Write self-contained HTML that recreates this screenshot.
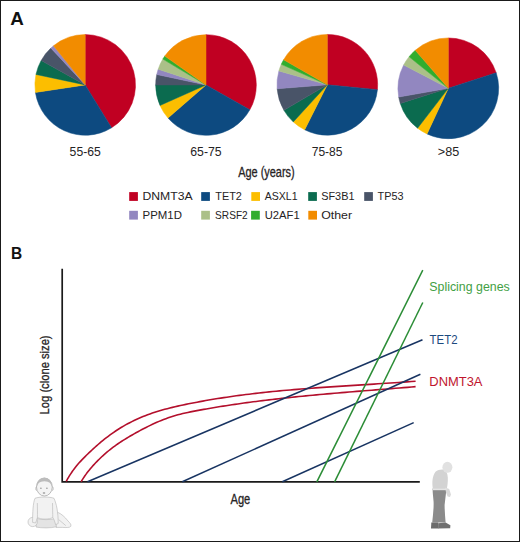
<!DOCTYPE html>
<html><head><meta charset="utf-8"><style>
html,body{margin:0;padding:0;background:#fff;}
svg{display:block;}
text{font-family:"Liberation Sans",sans-serif;}
</style></head><body>
<svg width="520" height="542" viewBox="0 0 520 542">
<rect x="0" y="0" width="520" height="542" fill="#fff"/>
<rect x="0.5" y="0.5" width="519" height="541" fill="none" stroke="#1a1a1a" stroke-width="1"/>
<text x="10.2" y="24.8" font-size="17.6" fill="#111" text-anchor="start" font-weight="bold" textLength="13.6" lengthAdjust="spacingAndGlyphs" >A</text>
<path d="M85.20,84.90L85.20,34.55A50.35,50.35 0 0 1 111.58,127.78Z" fill="#c00022" stroke="#c00022" stroke-width="0.5" stroke-linejoin="round"/>
<path d="M85.20,84.90L111.58,127.78A50.35,50.35 0 0 1 35.42,92.43Z" fill="#0d4a80" stroke="#0d4a80" stroke-width="0.5" stroke-linejoin="round"/>
<path d="M85.20,84.90L35.42,92.43A50.35,50.35 0 0 1 35.95,74.43Z" fill="#fcbe00" stroke="#fcbe00" stroke-width="0.5" stroke-linejoin="round"/>
<path d="M85.20,84.90L35.95,74.43A50.35,50.35 0 0 1 41.16,60.49Z" fill="#0b6b4f" stroke="#0b6b4f" stroke-width="0.5" stroke-linejoin="round"/>
<path d="M85.20,84.90L41.16,60.49A50.35,50.35 0 0 1 50.86,48.08Z" fill="#495468" stroke="#495468" stroke-width="0.5" stroke-linejoin="round"/>
<path d="M85.20,84.90L50.86,48.08A50.35,50.35 0 0 1 53.51,45.77Z" fill="#9287c0" stroke="#9287c0" stroke-width="0.5" stroke-linejoin="round"/>
<path d="M85.20,84.90L53.51,45.77A50.35,50.35 0 0 1 85.20,34.55Z" fill="#f28c00" stroke="#f28c00" stroke-width="0.5" stroke-linejoin="round"/>
<path d="M206.00,85.00L206.00,34.65A50.35,50.35 0 0 1 249.82,109.79Z" fill="#c00022" stroke="#c00022" stroke-width="0.5" stroke-linejoin="round"/>
<path d="M206.00,85.00L249.82,109.79A50.35,50.35 0 0 1 168.00,118.03Z" fill="#0d4a80" stroke="#0d4a80" stroke-width="0.5" stroke-linejoin="round"/>
<path d="M206.00,85.00L168.00,118.03A50.35,50.35 0 0 1 160.00,105.48Z" fill="#fcbe00" stroke="#fcbe00" stroke-width="0.5" stroke-linejoin="round"/>
<path d="M206.00,85.00L160.00,105.48A50.35,50.35 0 0 1 155.65,85.00Z" fill="#0b6b4f" stroke="#0b6b4f" stroke-width="0.5" stroke-linejoin="round"/>
<path d="M206.00,85.00L155.65,85.00A50.35,50.35 0 0 1 156.75,74.53Z" fill="#495468" stroke="#495468" stroke-width="0.5" stroke-linejoin="round"/>
<path d="M206.00,85.00L156.75,74.53A50.35,50.35 0 0 1 158.20,69.19Z" fill="#9287c0" stroke="#9287c0" stroke-width="0.5" stroke-linejoin="round"/>
<path d="M206.00,85.00L158.20,69.19A50.35,50.35 0 0 1 162.84,59.07Z" fill="#abc088" stroke="#abc088" stroke-width="0.5" stroke-linejoin="round"/>
<path d="M206.00,85.00L162.84,59.07A50.35,50.35 0 0 1 164.76,56.12Z" fill="#31ad2e" stroke="#31ad2e" stroke-width="0.5" stroke-linejoin="round"/>
<path d="M206.00,85.00L164.76,56.12A50.35,50.35 0 0 1 206.00,34.65Z" fill="#f28c00" stroke="#f28c00" stroke-width="0.5" stroke-linejoin="round"/>
<path d="M327.30,84.80L327.30,34.45A50.35,50.35 0 0 1 377.42,89.63Z" fill="#c00022" stroke="#c00022" stroke-width="0.5" stroke-linejoin="round"/>
<path d="M327.30,84.80L377.42,89.63A50.35,50.35 0 0 1 304.68,129.78Z" fill="#0d4a80" stroke="#0d4a80" stroke-width="0.5" stroke-linejoin="round"/>
<path d="M327.30,84.80L304.68,129.78A50.35,50.35 0 0 1 293.28,121.92Z" fill="#fcbe00" stroke="#fcbe00" stroke-width="0.5" stroke-linejoin="round"/>
<path d="M327.30,84.80L293.28,121.92A50.35,50.35 0 0 1 283.92,110.35Z" fill="#0b6b4f" stroke="#0b6b4f" stroke-width="0.5" stroke-linejoin="round"/>
<path d="M327.30,84.80L283.92,110.35A50.35,50.35 0 0 1 277.11,88.75Z" fill="#495468" stroke="#495468" stroke-width="0.5" stroke-linejoin="round"/>
<path d="M327.30,84.80L277.11,88.75A50.35,50.35 0 0 1 278.90,70.92Z" fill="#9287c0" stroke="#9287c0" stroke-width="0.5" stroke-linejoin="round"/>
<path d="M327.30,84.80L278.90,70.92A50.35,50.35 0 0 1 281.30,64.32Z" fill="#abc088" stroke="#abc088" stroke-width="0.5" stroke-linejoin="round"/>
<path d="M327.30,84.80L281.30,64.32A50.35,50.35 0 0 1 283.61,59.78Z" fill="#31ad2e" stroke="#31ad2e" stroke-width="0.5" stroke-linejoin="round"/>
<path d="M327.30,84.80L283.61,59.78A50.35,50.35 0 0 1 327.30,34.45Z" fill="#f28c00" stroke="#f28c00" stroke-width="0.5" stroke-linejoin="round"/>
<path d="M448.30,88.30L448.30,37.95A50.35,50.35 0 0 1 496.19,72.74Z" fill="#c00022" stroke="#c00022" stroke-width="0.5" stroke-linejoin="round"/>
<path d="M448.30,88.30L496.19,72.74A50.35,50.35 0 0 1 427.02,133.93Z" fill="#0d4a80" stroke="#0d4a80" stroke-width="0.5" stroke-linejoin="round"/>
<path d="M448.30,88.30L427.02,133.93A50.35,50.35 0 0 1 417.58,128.19Z" fill="#fcbe00" stroke="#fcbe00" stroke-width="0.5" stroke-linejoin="round"/>
<path d="M448.30,88.30L417.58,128.19A50.35,50.35 0 0 1 400.28,103.44Z" fill="#0b6b4f" stroke="#0b6b4f" stroke-width="0.5" stroke-linejoin="round"/>
<path d="M448.30,88.30L400.28,103.44A50.35,50.35 0 0 1 398.71,97.04Z" fill="#495468" stroke="#495468" stroke-width="0.5" stroke-linejoin="round"/>
<path d="M448.30,88.30L398.71,97.04A50.35,50.35 0 0 1 403.68,64.97Z" fill="#9287c0" stroke="#9287c0" stroke-width="0.5" stroke-linejoin="round"/>
<path d="M448.30,88.30L403.68,64.97A50.35,50.35 0 0 1 409.06,56.75Z" fill="#abc088" stroke="#abc088" stroke-width="0.5" stroke-linejoin="round"/>
<path d="M448.30,88.30L409.06,56.75A50.35,50.35 0 0 1 415.27,50.30Z" fill="#31ad2e" stroke="#31ad2e" stroke-width="0.5" stroke-linejoin="round"/>
<path d="M448.30,88.30L415.27,50.30A50.35,50.35 0 0 1 448.30,37.95Z" fill="#f28c00" stroke="#f28c00" stroke-width="0.5" stroke-linejoin="round"/>
<text x="85.2" y="155.6" font-size="12.8" fill="#262324" text-anchor="middle" font-weight="normal" textLength="31.2" lengthAdjust="spacingAndGlyphs" >55-65</text>
<text x="206" y="155.6" font-size="12.8" fill="#262324" text-anchor="middle" font-weight="normal" textLength="31.4" lengthAdjust="spacingAndGlyphs" >65-75</text>
<text x="327.1" y="155.6" font-size="12.8" fill="#262324" text-anchor="middle" font-weight="normal" textLength="30.8" lengthAdjust="spacingAndGlyphs" >75-85</text>
<text x="448.5" y="155.6" font-size="12.8" fill="#262324" text-anchor="middle" font-weight="normal" textLength="21.4" lengthAdjust="spacingAndGlyphs" >&gt;85</text>
<text x="238.2" y="177.4" font-size="13.8" fill="#262324" text-anchor="start" font-weight="normal" textLength="56.5" lengthAdjust="spacingAndGlyphs" stroke="#262324" stroke-width="0.3">Age (years)</text>
<rect x="129.2" y="192.1" width="8.7" height="8.8" fill="#c00022"/>
<text x="142.5" y="200.04999999999998" font-size="11.1" fill="#262324" text-anchor="start" font-weight="normal" textLength="50.1" lengthAdjust="spacingAndGlyphs" >DNMT3A</text>
<rect x="201.2" y="192.1" width="8.7" height="8.8" fill="#0d4a80"/>
<text x="215.3" y="200.04999999999998" font-size="11.1" fill="#262324" text-anchor="start" font-weight="normal" textLength="26.599999999999998" lengthAdjust="spacingAndGlyphs" >TET2</text>
<rect x="251.3" y="192.1" width="8.7" height="8.8" fill="#fcbe00"/>
<text x="264.8" y="200.04999999999998" font-size="11.1" fill="#262324" text-anchor="start" font-weight="normal" textLength="32.8" lengthAdjust="spacingAndGlyphs" >ASXL1</text>
<rect x="308.2" y="192.1" width="8.7" height="8.8" fill="#0b6b4f"/>
<text x="321.2" y="200.04999999999998" font-size="11.1" fill="#262324" text-anchor="start" font-weight="normal" textLength="33.3" lengthAdjust="spacingAndGlyphs" >SF3B1</text>
<rect x="364.2" y="192.1" width="8.7" height="8.8" fill="#495468"/>
<text x="377.6" y="200.04999999999998" font-size="11.1" fill="#262324" text-anchor="start" font-weight="normal" textLength="25.9" lengthAdjust="spacingAndGlyphs" >TP53</text>
<rect x="129.2" y="210.8" width="8.7" height="8.8" fill="#9287c0"/>
<text x="142.5" y="218.75" font-size="11.1" fill="#262324" text-anchor="start" font-weight="normal" textLength="39.4" lengthAdjust="spacingAndGlyphs" >PPM1D</text>
<rect x="201.2" y="210.8" width="8.7" height="8.8" fill="#abc088"/>
<text x="215.10000000000002" y="218.75" font-size="11.1" fill="#262324" text-anchor="start" font-weight="normal" textLength="32.6" lengthAdjust="spacingAndGlyphs" >SRSF2</text>
<rect x="251.1" y="210.8" width="8.7" height="8.8" fill="#31ad2e"/>
<text x="264.7" y="218.75" font-size="11.1" fill="#262324" text-anchor="start" font-weight="normal" textLength="35.0" lengthAdjust="spacingAndGlyphs" >U2AF1</text>
<rect x="308.3" y="210.8" width="8.7" height="8.8" fill="#f28c00"/>
<text x="321.2" y="218.75" font-size="11.1" fill="#262324" text-anchor="start" font-weight="normal" textLength="30.9" lengthAdjust="spacingAndGlyphs" >Other</text>
<text x="11.0" y="259.4" font-size="16.2" fill="#111" text-anchor="start" font-weight="bold" textLength="11.2" lengthAdjust="spacingAndGlyphs" >B</text>
<g fill="none" stroke-linecap="butt">
<path d="M62.2,268.8V481.8H419.8" stroke="#1a1a1a" stroke-width="1.7"/>
<path d="M66.20,481.46 L66.28,481.31 L66.46,480.98 L66.71,480.51 L67.04,479.92 L67.43,479.23 L67.87,478.46 L68.37,477.60 L68.93,476.67 L69.53,475.68 L70.18,474.65 L70.88,473.57 L71.63,472.45 L72.42,471.30 L73.26,470.13 L74.14,468.94 L75.06,467.73 L76.02,466.52 L77.02,465.29 L78.06,464.06 L79.14,462.83 L80.26,461.60 L81.42,460.35 L82.61,459.11 L83.84,457.85 L85.11,456.57 L86.41,455.28 L87.75,453.97 L89.13,452.65 L90.54,451.31 L91.98,449.96 L93.46,448.60 L94.97,447.23 L96.52,445.86 L98.09,444.48 L99.71,443.10 L101.35,441.72 L103.02,440.35 L104.73,438.98 L106.47,437.62 L108.24,436.27 L110.05,434.93 L111.88,433.61 L113.74,432.30 L115.64,431.01 L117.56,429.75 L119.52,428.51 L121.50,427.29 L123.52,426.10 L125.57,424.93 L127.64,423.79 L129.74,422.67 L131.88,421.59 L134.04,420.53 L136.23,419.50 L138.45,418.50 L140.69,417.53 L142.97,416.59 L145.27,415.67 L147.60,414.79 L149.96,413.93 L152.35,413.10 L154.77,412.30 L157.21,411.52 L159.68,410.77 L162.17,410.05 L164.70,409.35 L167.25,408.67 L169.82,408.01 L172.43,407.37 L175.06,406.74 L177.72,406.14 L180.40,405.54 L183.11,404.96 L185.84,404.39 L188.61,403.82 L191.39,403.26 L194.21,402.71 L197.05,402.17 L199.91,401.63 L202.80,401.10 L205.72,400.58 L208.66,400.07 L211.62,399.57 L214.61,399.07 L217.63,398.58 L220.67,398.10 L223.74,397.63 L226.83,397.17 L229.94,396.71 L233.08,396.27 L236.25,395.83 L239.44,395.40 L242.65,394.98 L245.89,394.57 L249.15,394.17 L252.43,393.77 L255.74,393.38 L259.08,393.01 L262.44,392.63 L265.82,392.27 L269.22,391.92 L272.65,391.57 L276.10,391.23 L279.58,390.90 L283.08,390.57 L286.60,390.25 L290.15,389.94 L293.72,389.63 L297.31,389.33 L300.93,389.04 L304.57,388.75 L308.23,388.47 L311.91,388.19 L315.62,387.92 L319.35,387.65 L323.11,387.38 L326.88,387.12 L330.68,386.86 L334.50,386.60 L338.35,386.35 L342.22,386.10 L346.10,385.85 L350.02,385.60 L353.95,385.35 L357.91,385.10 L361.88,384.84 L365.88,384.59 L369.91,384.34 L373.95,384.08 L378.02,383.82 L382.11,383.55 L386.22,383.28 L390.35,383.01 L394.50,382.73 L398.68,382.44 L402.88,382.14 L407.10,381.84 L411.34,381.52 L415.60,381.20" stroke="#b30f2c" stroke-width="1.6"/>
<path d="M81.10,481.74 L81.18,481.61 L81.35,481.32 L81.59,480.92 L81.90,480.41 L82.27,479.81 L82.70,479.14 L83.18,478.39 L83.71,477.58 L84.29,476.72 L84.91,475.81 L85.58,474.86 L86.30,473.87 L87.06,472.85 L87.86,471.81 L88.70,470.74 L89.58,469.66 L90.50,468.55 L91.46,467.43 L92.45,466.30 L93.49,465.15 L94.56,463.99 L95.67,462.81 L96.81,461.62 L97.99,460.42 L99.20,459.21 L100.45,458.00 L101.73,456.78 L103.05,455.57 L104.40,454.35 L105.78,453.14 L107.20,451.94 L108.64,450.74 L110.12,449.55 L111.63,448.37 L113.18,447.20 L114.75,446.04 L116.35,444.89 L117.99,443.76 L119.66,442.63 L121.35,441.51 L123.08,440.41 L124.83,439.31 L126.62,438.22 L128.43,437.13 L130.27,436.05 L132.15,434.97 L134.05,433.89 L135.98,432.81 L137.93,431.73 L139.92,430.65 L141.93,429.57 L143.97,428.50 L146.04,427.44 L148.14,426.39 L150.27,425.35 L152.42,424.33 L154.60,423.32 L156.80,422.34 L159.03,421.37 L161.29,420.43 L163.58,419.52 L165.89,418.64 L168.23,417.80 L170.59,416.99 L172.98,416.23 L175.40,415.50 L177.84,414.82 L180.31,414.17 L182.80,413.55 L185.32,412.97 L187.86,412.41 L190.43,411.88 L193.02,411.36 L195.64,410.86 L198.29,410.37 L200.95,409.88 L203.65,409.40 L206.37,408.92 L209.11,408.44 L211.87,407.97 L214.67,407.51 L217.48,407.04 L220.32,406.58 L223.18,406.13 L226.07,405.68 L228.98,405.23 L231.92,404.79 L234.88,404.35 L237.86,403.92 L240.87,403.49 L243.90,403.07 L246.95,402.65 L250.02,402.23 L253.12,401.82 L256.25,401.42 L259.39,401.02 L262.56,400.62 L265.75,400.23 L268.97,399.85 L272.20,399.46 L275.46,399.09 L278.75,398.71 L282.05,398.35 L285.38,397.98 L288.73,397.62 L292.10,397.27 L295.50,396.92 L298.92,396.57 L302.36,396.22 L305.82,395.88 L309.30,395.55 L312.81,395.21 L316.34,394.88 L319.89,394.56 L323.46,394.23 L327.05,393.91 L330.67,393.59 L334.30,393.28 L337.96,392.96 L341.64,392.65 L345.34,392.34 L349.07,392.03 L352.81,391.72 L356.58,391.41 L360.37,391.11 L364.17,390.80 L368.00,390.49 L371.86,390.19 L375.73,389.88 L379.62,389.57 L383.54,389.26 L387.47,388.95 L391.43,388.63 L395.40,388.31 L399.40,387.99 L403.42,387.67 L407.46,387.34 L411.52,387.01 L415.60,386.67" stroke="#b30f2c" stroke-width="1.6"/>
<path d="M87.5,481.8L422.5,339.7" stroke="#183462" stroke-width="1.5"/>
<path d="M182.3,481.8L420.4,374.2" stroke="#183462" stroke-width="1.5"/>
<path d="M282.3,481.8L413.7,422.6" stroke="#183462" stroke-width="1.5"/>
<path d="M316.8,481.8L422.8,270.2" stroke="#2b8d36" stroke-width="1.5"/>
<path d="M334.6,481.8L422.8,302.5" stroke="#2b8d36" stroke-width="1.5"/>
</g>
<text x="429.3" y="291" font-size="12.8" fill="#42a044" text-anchor="start" font-weight="normal" textLength="80.4" lengthAdjust="spacingAndGlyphs" >Splicing genes</text>
<text x="429.6" y="344.3" font-size="12.8" fill="#1c4a7e" text-anchor="start" font-weight="normal" textLength="27.9" lengthAdjust="spacingAndGlyphs" >TET2</text>
<text x="429.3" y="385.8" font-size="12.6" fill="#c0142e" text-anchor="start" font-weight="normal" textLength="53.2" lengthAdjust="spacingAndGlyphs" >DNMT3A</text>
<text x="0" y="0" font-size="13.6" fill="#262324" stroke="#262324" stroke-width="0.3" textLength="79" lengthAdjust="spacingAndGlyphs" transform="translate(48.7,414.4) rotate(-90)">Log (clone size)</text>
<text x="230.5" y="503.6" font-size="14.3" fill="#262324" text-anchor="start" font-weight="normal" textLength="19.8" lengthAdjust="spacingAndGlyphs" stroke="#262324" stroke-width="0.3">Age</text>
<!-- baby -->
<g stroke="#bababa" stroke-width="0.65" fill="#f2f2f2" stroke-linejoin="round">
<path d="M57.5,512.3 C61,513.5 65,517 68,521 C70,523 71.5,524.5 70.8,526.3 C70,527.8 66,527.6 62.5,527.4 L56,527.4 L53,522 Z"/>
<path d="M58.6,519.5 C61,521.5 63.5,523.5 65.8,525.6" fill="none"/>
<path d="M37,518.5 C42,520 50,520 55,518.5 L56.5,526.8 C50,528.2 42,528.2 36,527 Z" fill="#e4e4e4"/>
<ellipse cx="32.7" cy="522" rx="4.7" ry="4.6"/>
<path d="M35,498.3 C39,496.6 50,496.6 54,498.3 C56.5,504 58.2,512 58.2,523.5 L55.6,524.6 C54.6,521 53.6,518.5 52.8,517.5 C49,519.6 41,519.6 37.4,517.5 C36.8,519.5 36.2,521.6 35.6,523 L32.6,522.4 C32.6,512 33,503 35,498.3 Z"/>
<path d="M37.3,503 C37.5,508 37.5,514 37.4,517.5 M52.5,503 C52.6,508 52.7,514 52.8,517.5" fill="none"/>
<ellipse cx="36.6" cy="488.6" rx="1" ry="1.8"/>
<ellipse cx="52.4" cy="488.6" rx="1" ry="1.8"/>
<ellipse cx="44.4" cy="487" rx="7.9" ry="9" fill="#f4f4f4" stroke="#a6a6a6" stroke-width="0.75"/>
<path d="M36.8,487 C36.4,480.5 40.5,477.8 44.4,477.8 C48.3,477.8 52.4,480.5 52,487 C51,483.5 49.5,481.3 44.4,481.2 C39.3,481.3 37.8,483.5 36.8,487 Z" fill="#bcbcbc" stroke="none"/>
<ellipse cx="40.9" cy="488.2" rx="0.9" ry="0.7" fill="#a0a0a0" stroke="none"/>
<ellipse cx="46.9" cy="488.2" rx="0.9" ry="0.7" fill="#a0a0a0" stroke="none"/>
<ellipse cx="44" cy="493" rx="1.3" ry="0.8" fill="#959595" stroke="none"/>
</g>
<!-- elderly -->
<g>
<path d="M433,489.5 C431.8,483 432.2,476 435.5,471.8 C438,469.6 441.5,469.2 444.8,469.8 C447.2,472 448.2,476 447.8,481 C447.6,484.5 447.2,487.5 446.6,489.5 Z" fill="#d3d3d3"/>
<ellipse cx="447.4" cy="467.3" rx="5" ry="5.5" fill="#e1e1e1"/>
<path d="M432.6,488.6 L446.4,488.6 C446,494 445.2,500 444.6,505 C444.6,511 445.2,517 445.6,522.5 L432.2,522.6 C433,515 433.8,508 433.6,502 C433.2,497 432.6,493 432.6,488.6 Z" fill="#8b8b8b"/>
<path d="M431.3,522.4 L438.2,522.4 L438.6,528.6 L431,528.6 Z" fill="#6c6c6c"/>
<path d="M438.2,523.2 L445.6,522.6 L450.4,525.2 L450.2,528.2 L438.2,528.4 Z" fill="#707070"/>
<path d="M445.2,487.6 L449.2,489 L451,494.5 L450,497 L447.6,496.6 L446,492.4 Z" fill="#d9d9d9"/>
<path d="M433,488.2 L446.6,488.2 L446.6,490.2 L433,490.2 Z" fill="#e4e4e4"/>
</g>
</svg>
</body></html>
